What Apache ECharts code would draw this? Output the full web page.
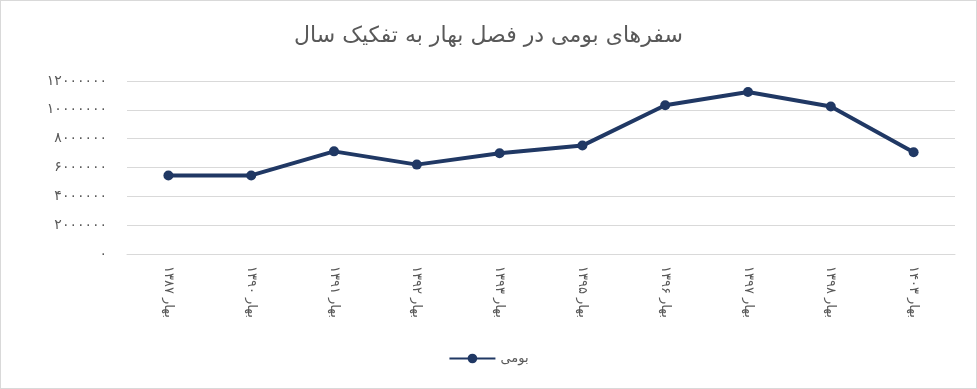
<!DOCTYPE html>
<html><head><meta charset="utf-8">
<script src="https://cdn.jsdelivr.net/npm/echarts@6/dist/echarts.min.js"></script>
<style>html,body{margin:0;padding:0;background:#fff}#c{width:977px;height:389px;box-sizing:border-box;border:1px solid #d9d9d9}</style>
</head><body><div id="c"></div>
<script>
const title = 'سفرهای بومی در فصل بهار به تفکیک سال';
const seriesName = 'بومی';
const categories = ['بهار ۱۳۸۷','بهار ۱۳۹۰','بهار ۱۳۹۱','بهار ۱۳۹۲','بهار ۱۳۹۳','بهار ۱۳۹۵','بهار ۱۳۹۶','بهار ۱۳۹۷','بهار ۱۳۹۸','بهار ۱۴۰۳'];
const values = [5450000, 5450000, 7120000, 6200000, 6990000, 7520000, 10320000, 11240000, 10230000, 7060000];
const yTickValues = [0, 2000000, 4000000, 6000000, 8000000, 10000000, 12000000];
const fa = d => String(d).replace(/[0-9]/g, c => '۰۱۲۳۴۵۶۷۸۹'[+c]);
const font = '"DejaVu Sans", sans-serif';
const chart = echarts.init(document.getElementById('c'));
chart.setOption({
  animation: false,
  title: {text: title, left: 'center', top: 19, textStyle: {fontFamily: font, fontSize: 22, fontWeight: 'normal', color: '#595959'}},
  grid: {left: 126, right: 21, top: 80, bottom: 134},
  legend: {bottom: 18, left: 'center', data: [seriesName], itemWidth: 46, itemHeight: 12, itemGap: 6, textStyle: {fontFamily: font, fontSize: 13, color: '#595959'}},
  xAxis: {type: 'category', data: categories, boundaryGap: true,
    axisLine: {lineStyle: {color: '#d9d9d9'}}, axisTick: {show: false},
    axisLabel: {rotate: -90, interval: 0, margin: 12, fontFamily: font, fontSize: 13, color: '#595959'}},
  yAxis: {type: 'value', min: 0, max: 12000000, interval: 2000000,
    axisLine: {show: false}, axisTick: {show: false},
    splitLine: {lineStyle: {color: '#d9d9d9', width: 1}},
    axisLabel: {margin: 20, fontFamily: font, fontSize: 14, color: '#595959', formatter: v => yTickValues.includes(v) ? fa(v) : ''}},
  series: [{name: seriesName, type: 'line', data: values, symbol: 'circle', symbolSize: 10,
    lineStyle: {color: '#203864', width: 4}, itemStyle: {color: '#203864'}}]
});
</script></body></html>
